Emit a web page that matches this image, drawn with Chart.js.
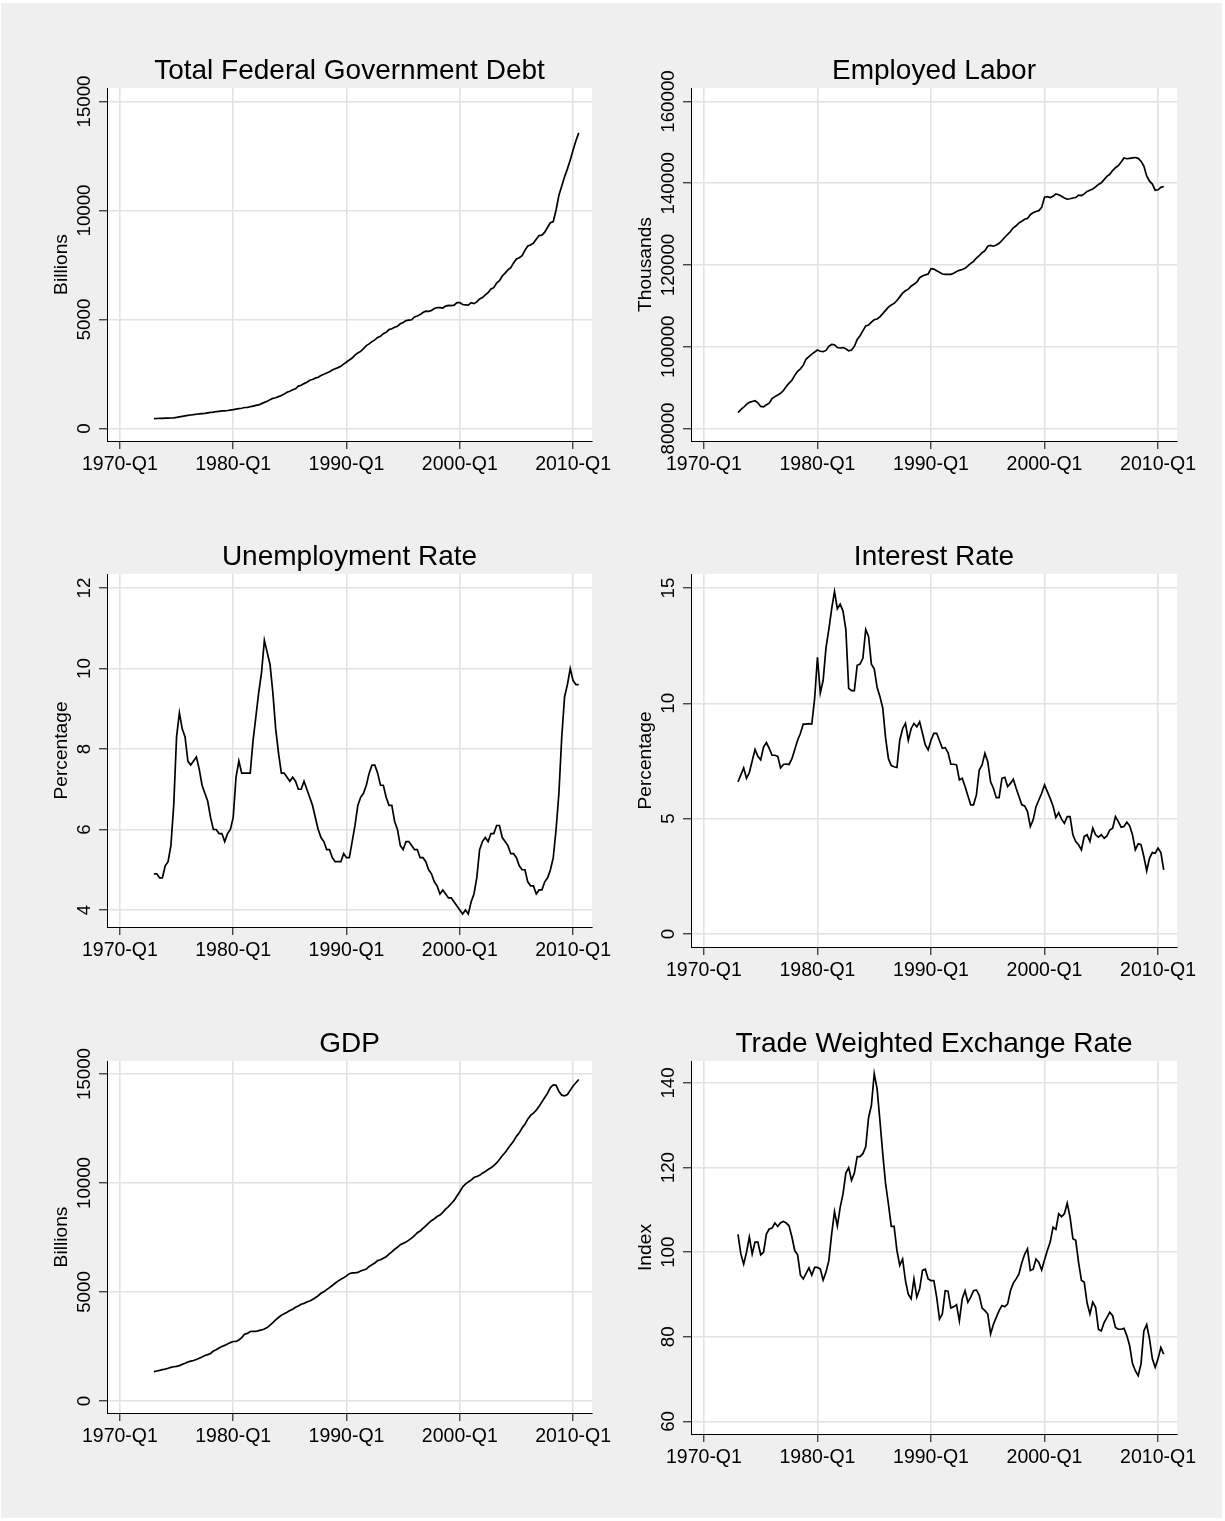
<!DOCTYPE html>
<html>
<head>
<meta charset="utf-8">
<script src="https://cdn.jsdelivr.net/npm/chart.js@4.4.1/dist/chart.umd.min.js"></script>
<style>
  html, body { margin: 0; padding: 0; background: #ffffff; width: 1225px; height: 1521px; overflow: hidden; }
  #bg { position: absolute; left: 1px; top: 3px; width: 1221px; height: 1515px; background: #efefef; }
  canvas { position: absolute; }
</style>
</head>
<body>
<div id="bg"></div>
<script>
// ---------------- DATA ----------------
// Quarterly observations, 1973-Q1 .. 2010-Q3
const firstYear = 1973, lastYear = 2010, lastQuarter = 3;
const quarterLabels = [];
const quarterPositions = [];
for (let y = firstYear; y <= lastYear; y++) {
  for (let q = 1; q <= 4; q++) {
    if (y === lastYear && q > lastQuarter) break;
    quarterLabels.push(y + '-Q' + q);
    quarterPositions.push(y + (q - 1) / 4);
  }
}

const xTickValues = [1970, 1980, 1990, 2000, 2010];
const xTickLabels = ['1970-Q1', '1980-Q1', '1990-Q1', '2000-Q1', '2010-Q1'];

// Total Federal Government Debt (billions)
const federalDebt = [
  456,458,466,469, 474,475,481,492, 509,533,555,577, 599,621,634,653,
  670,685,698,718, 738,752,771,789, 805,812,827,845, 864,889,909,930,
  964,971,998,1028, 1061,1080,1142,1197, 1246,1324,1381,1411, 1463,1518,1577,1663,
  1712,1775,1823,1945, 1986,2059,2125,2214, 2247,2310,2350,2431, 2487,2547,2602,2684,
  2740,2793,2857,2953, 3052,3143,3233,3365, 3466,3538,3665,3802, 3881,3984,4065,4177,
  4230,4353,4411,4536, 4576,4646,4692,4801, 4864,4951,4974,4989, 5117,5162,5225,5323,
  5380,5376,5413,5502, 5542,5548,5526,5614, 5651,5639,5656,5776, 5773,5686,5674,5662,
  5773,5727,5807,5943, 6006,6126,6228,6405, 6460,6670,6783,6998, 7131,7274,7379,7596,
  7776,7837,7933,8170, 8371,8420,8507,8680, 8849,8867,9008,9229, 9437,9492,10025,10700,
  11127,11545,11910,12311, 12773,13202,13562
];
const debtTicks = [0, 5000, 10000, 15000];

// Employed labor (thousands)
const employedLabor = [
  83900,84600,85200,85900, 86400,86600,86800,86300, 85400,85300,85800,86200, 87300,87800,88200,88600,
  89300,90300,91100,91800, 93000,94000,94600,95500, 97000,97600,98200,98700, 99200,98900,98800,99100,
  100100,100600,100500,99800, 99700,99800,99500,99000, 99200,100100,101800,102700, 103900,105100,105300,106000,
  106600,106800,107300,108100, 108900,109700,110200,110600, 111300,112200,113100,113700, 114100,114800,115300,115800,
  116900,117300,117600,117800, 119100,119000,118600,118200, 117800,117700,117700,117700, 118000,118400,118700,118900,
  119200,119800,120400,120900, 121700,122300,123000,123500, 124600,124800,124600,124900, 125300,126000,126800,127500,
  128200,129100,129600,130300, 130700,131200,131400,132300, 132800,133100,133300,134100, 136600,136700,136500,136800,
  137400,137200,136800,136400, 136100,136200,136400,136500, 137100,137000,137400,138000, 138300,138600,139100,139700,
  140100,140900,141700,142200, 143100,143800,144300,145200, 146200,146000,146100,146200, 146300,146100,145400,144200,
  141800,140500,139800,138300, 138400,139000,139200
];
const laborTicks = [80000, 100000, 120000, 140000, 160000];

// Unemployment rate (percent)
const unemploymentRate = [
  4.9,4.9,4.8,4.8, 5.1,5.2,5.6,6.6, 8.3,8.9,8.5,8.3, 7.7,7.6,7.7,7.8,
  7.5,7.1,6.9,6.7, 6.3,6.0,6.0,5.9, 5.9,5.7,5.9,6.0, 6.3,7.3,7.7,7.4,
  7.4,7.4,7.4,8.2, 8.8,9.4,9.9,10.7, 10.4,10.1,9.4,8.5, 7.9,7.4,7.4,7.3,
  7.2,7.3,7.2,7.0, 7.0,7.2,7.0,6.8, 6.6,6.3,6.0,5.8, 5.7,5.5,5.5,5.3,
  5.2,5.2,5.2,5.4, 5.3,5.3,5.7,6.1, 6.6,6.8,6.9,7.1, 7.4,7.6,7.6,7.4,
  7.1,7.1,6.8,6.6, 6.6,6.2,6.0,5.6, 5.5,5.7,5.7,5.6, 5.5,5.5,5.3,5.3,
  5.2,5.0,4.9,4.7, 4.6,4.4,4.5,4.4, 4.3,4.3,4.2,4.1, 4.0,3.9,4.0,3.9,
  4.2,4.4,4.8,5.5, 5.7,5.8,5.7,5.9, 5.9,6.1,6.1,5.8, 5.7,5.6,5.4,5.4,
  5.3,5.1,5.0,5.0, 4.7,4.6,4.6,4.4, 4.5,4.5,4.7,4.8, 5.0,5.3,6.0,6.9,
  8.3,9.3,9.6,10.0, 9.7,9.6,9.6
];
const unemploymentTicks = [4, 6, 8, 10, 12];

// Interest rate (percent)
const interestRate = [
  6.6,6.9,7.2,6.75, 7.0,7.5,8.0,7.7, 7.55,8.1,8.3,8.05, 7.75,7.75,7.7,7.2,
  7.35,7.37,7.35,7.6, 8.0,8.4,8.7,9.1, 9.1,9.12,9.1,10.2, 12.0,10.45,11.0,12.4,
  13.2,14.1,14.85,14.1, 14.3,14.0,13.2,10.65, 10.55,10.55,11.65,11.7, 11.95,13.2,12.9,11.7,
  11.5,10.7,10.3,9.8, 8.5,7.6,7.3,7.25, 7.22,8.4,8.9,9.13, 8.4,8.9,9.13,8.98,
  9.2,8.7,8.2,7.98, 8.4,8.7,8.7,8.38, 8.05,8.08,7.87,7.36, 7.36,7.33,6.68,6.75,
  6.39,5.99,5.6,5.6, 6.03,7.11,7.33,7.83, 7.47,6.6,6.32,5.91, 5.91,6.75,6.79,6.39,
  6.53,6.71,6.32,5.96, 5.6,5.55,5.31,4.66, 4.95,5.52,5.81,6.1, 6.46,6.17,5.88,5.55,
  5.05,5.26,4.98,4.8, 5.09,5.09,4.3,4.01, 3.87,3.65,4.23,4.3, 4.01,4.59,4.3,4.2,
  4.3,4.15,4.25,4.51, 4.59,5.09,4.87,4.63, 4.66,4.85,4.69,4.3, 3.65,3.91,3.87,3.36,
  2.74,3.29,3.53,3.5, 3.72,3.53,2.78
];
const interestTicks = [0, 5, 10, 15];

// GDP (billions)
const gdp = [
  1347,1375,1405,1440, 1465,1500,1540,1570, 1590,1625,1680,1730, 1790,1830,1860,1905,
  1960,2020,2090,2130, 2180,2290,2350,2430, 2500,2550,2620,2680, 2730,2730,2800,2910,
  3060,3100,3190,3200, 3190,3230,3260,3300, 3370,3480,3600,3720, 3830,3930,4000,4070,
  4150,4210,4300,4360, 4440,4480,4540,4590, 4660,4740,4830,4940, 5010,5110,5200,5300,
  5400,5500,5580,5650, 5740,5840,5880,5880, 5900,5960,6010,6050, 6170,6250,6330,6440,
  6480,6550,6620,6740, 6840,6960,7050,7170, 7230,7290,7380,7470, 7580,7720,7800,7920,
  8030,8160,8270,8360, 8460,8530,8650,8800, 8920,9060,9200,9400, 9600,9820,9950,10050,
  10130,10250,10300,10350, 10450,10530,10620,10700, 10800,10920,11080,11250, 11400,11580,11750,11920,
  12140,12300,12520,12690, 12930,13100,13200,13340, 13520,13720,13920,14120, 14380,14500,14480,14200,
  14030,14000,14060,14250, 14450,14600,14750
];
const gdpTicks = [0, 5000, 10000, 15000];

// Trade weighted exchange rate (index)
const exchangeRate = [
  104.2,99.6,97.2,100.0, 103.6,99.6,102.4,102.4, 99.4,100.0,104.3,105.5, 105.7,106.9,106.1,107.0,
  107.3,106.9,106.2,103.6, 100.4,99.4,94.6,93.7, 95.0,96.3,94.6,96.4, 96.4,96.0,93.4,95.3,
  98.0,104.3,109.6,106.2, 110.6,113.8,118.7,120.0, 117.0,118.7,122.6,122.6, 123.3,124.9,131.8,134.7,
  142.2,138.7,131.2,123.3, 116.2,111.4,106.1,106.1, 100.4,96.9,98.4,93.3, 90.1,89.0,93.7,89.4,
  91.3,95.7,96.0,93.7, 93.3,93.3,89.4,84.2, 85.4,90.9,90.8,86.8, 87.1,87.6,83.8,89.0,
  90.9,88.2,89.4,90.9, 91.1,89.8,86.8,86.2, 85.4,80.7,83.0,84.6, 86.2,87.4,87.1,87.8,
  90.9,92.7,93.7,94.9, 97.5,99.5,100.8,95.7, 96.0,98.4,97.6,95.8, 98.2,100.4,102.4,105.9,
  105.4,109.1,108.4,109.1, 111.6,108.3,103.2,102.8, 97.6,93.4,92.9,88.0, 85.4,88.2,87.0,81.8,
  81.4,83.4,84.6,85.8, 85.0,82.2,81.8,81.8, 82.0,80.3,77.9,73.7, 72.0,70.8,73.6,81.4,
  82.9,79.5,74.8,72.8, 74.8,77.5,75.9
];
const exchangeTicks = [60, 80, 100, 120, 140];

const panelTitles = ['Total Federal Government Debt', 'Employed Labor', 'Unemployment Rate',
                     'Interest Rate', 'GDP', 'Trade Weighted Exchange Rate'];
const axisTitles = ['Billions', 'Thousands', 'Percentage', 'Percentage', 'Billions', 'Index'];

// ---------------- LAYOUT ----------------
const X_MIN = 1968.86, X_MAX = 2011.67;
const panels = [
  { series: federalDebt,      ticks: debtTicks,         yMin: -573,   yMax: 15619,  L: 107, R: 592,    T: 87.5, B: 440.5 },
  { series: employedLabor,    ticks: laborTicks,        yMin: 76942,  yMax: 163303, L: 691, R: 1176.5, T: 87.5, B: 440.5 },
  { series: unemploymentRate, ticks: unemploymentTicks, yMin: 3.578,  yMax: 12.348, L: 107, R: 592,    T: 574,  B: 927 },
  { series: interestRate,     ticks: interestTicks,     yMin: -0.564, yMax: 15.607, L: 691, R: 1176.5, T: 574,  B: 947 },
  { series: gdp,              ticks: gdpTicks,          yMin: -550,   yMax: 15596,  L: 107, R: 592,    T: 1061, B: 1413 },
  { series: exchangeRate,     ticks: exchangeTicks,     yMin: 57.04,  yMax: 145.2,  L: 691, R: 1176.5, T: 1061, B: 1433.5 }
];

const FONT = "'Liberation Sans', Arial, Helvetica, sans-serif";
const LEFT_SPACE = 100, RIGHT_SPACE = 50, TOP_SPACE = 60, BOTTOM_SPACE = 60;
const Y_TICK_FS = 18.7, X_TICK_FS = 19.5, AXIS_TITLE_FS = 19.2, TITLE_FS = 28;
const TICK_LEN = 8;
const GRID_COLOR = '#e2e2e2';

const measureCtx = document.createElement('canvas').getContext('2d');
function textWidth(txt, fs) {
  measureCtx.font = fs + 'px ' + FONT;
  return measureCtx.measureText(txt).width;
}

const bgPlugin = {
  id: 'plotBg',
  beforeDraw(chart) {
    const a = chart.chartArea, c = chart.ctx;
    c.save();
    c.fillStyle = '#ffffff';
    c.fillRect(a.left, a.top, a.right - a.left, a.bottom - a.top);
    c.restore();
  }
};
const titlePlugin = {
  id: 'panelTitle',
  afterDraw(chart, args, opts) {
    const a = chart.chartArea, c = chart.ctx;
    c.save();
    c.font = TITLE_FS + 'px ' + FONT;
    c.fillStyle = '#000';
    c.textAlign = 'center';
    c.textBaseline = 'alphabetic';
    c.fillText(opts.text, (a.left + a.right) / 2, a.top - 9.3);
    c.restore();
  }
};

panels.forEach((p, i) => {
  const cv = document.createElement('canvas');
  const w = Math.round(p.R - p.L + LEFT_SPACE + RIGHT_SPACE);
  const h = Math.round(p.B - p.T + TOP_SPACE + BOTTOM_SPACE);
  cv.width = w; cv.height = h;
  cv.style.width = w + 'px'; cv.style.height = h + 'px';
  cv.style.left = (p.L - LEFT_SPACE) + 'px';
  cv.style.top = (p.T - TOP_SPACE) + 'px';
  document.body.appendChild(cv);

  const widest = Math.max(...p.ticks.map(t => textWidth(String(t), Y_TICK_FS)));
  const mid = 0.3465;
  const yPad = 15.3 - TICK_LEN + mid * Y_TICK_FS - widest / 2;
  const xPad = 30 - TICK_LEN - X_TICK_FS * 1.2 / 2 - mid * X_TICK_FS;
  const yTitlePad = LEFT_SPACE - 39 - mid * AXIS_TITLE_FS - AXIS_TITLE_FS * 1.2 / 2;

  new Chart(cv, {
    type: 'line',
    data: {
      labels: quarterPositions,
      datasets: [{
        label: panelTitles[i],
        data: p.series,
        borderColor: '#000000',
        borderWidth: 1.7,
        pointRadius: 0,
        tension: 0,
        fill: false
      }]
    },
    options: {
      responsive: false,
      animation: false,
      devicePixelRatio: 1,
      layout: { padding: { top: TOP_SPACE, right: RIGHT_SPACE, left: 0, bottom: 0 } },
      plugins: {
        legend: { display: false },
        tooltip: { enabled: false },
        title: { display: false },
        panelTitle: { text: panelTitles[i] }
      },
      scales: {
        x: {
          type: 'linear',
          min: X_MIN, max: X_MAX,
          afterBuildTicks: s => { s.ticks = xTickValues.map(v => ({ value: v })); },
          afterFit: s => { s.height = BOTTOM_SPACE; },
          ticks: {
            autoSkip: false, maxRotation: 0, minRotation: 0,
            color: '#000', padding: xPad,
            font: { family: FONT, size: X_TICK_FS },
            callback: v => xTickLabels[xTickValues.indexOf(v)]
          },
          grid: { color: GRID_COLOR, lineWidth: 1.6, drawTicks: true, tickLength: TICK_LEN, tickColor: '#000', tickWidth: 1 },
          border: { display: true, color: '#000', width: 1 }
        },
        y: {
          type: 'linear',
          min: p.yMin, max: p.yMax,
          afterBuildTicks: s => { s.ticks = p.ticks.map(v => ({ value: v })); },
          afterFit: s => { s.width = LEFT_SPACE; },
          ticks: {
            autoSkip: false, minRotation: 90, maxRotation: 90, crossAlign: 'center',
            color: '#000', padding: yPad,
            font: { family: FONT, size: Y_TICK_FS },
            callback: v => String(v)
          },
          title: {
            display: true, text: axisTitles[i], color: '#000',
            font: { family: FONT, size: AXIS_TITLE_FS },
            padding: { top: yTitlePad, bottom: 0 }
          },
          grid: { color: GRID_COLOR, lineWidth: 1.6, drawTicks: true, tickLength: TICK_LEN, tickColor: '#000', tickWidth: 1 },
          border: { display: true, color: '#000', width: 1 }
        }
      }
    },
    plugins: [bgPlugin, titlePlugin]
  });
});
</script>
</body>
</html>
